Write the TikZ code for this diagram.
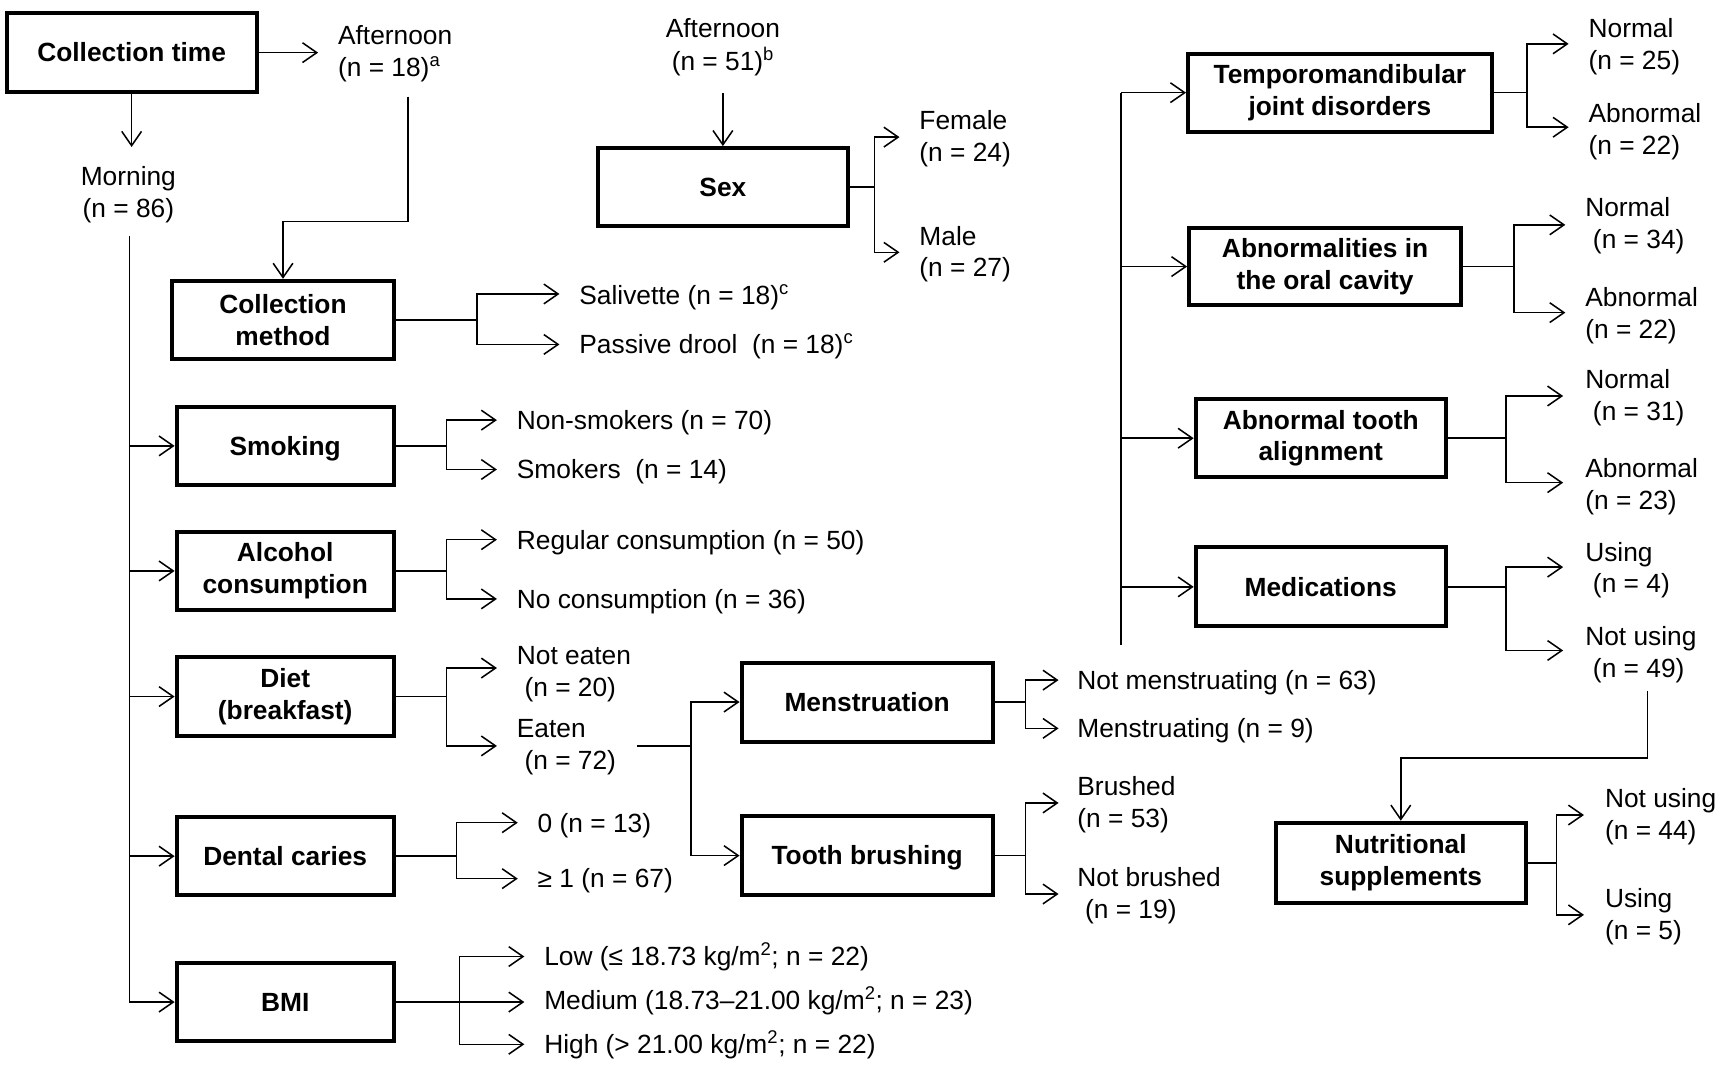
\documentclass[tikz,border=0pt]{standalone}
\usepackage{fontspec}
\setmainfont{Liberation Sans}
\usetikzlibrary{arrows.meta}
\newcommand{\mybranch}[5]{%
  \draw[ln] (#1.east) -- (#1.east -| #2,0) coordinate (#1b);
  \coordinate (#1t1) at (#3,#4);
  \coordinate (#1t2) at (#3,#5);
  \draw[arr] (#1b) |- (#1t1);
  \draw[arr] (#1b) |- (#1t2);
}
\begin{document}
\begin{tikzpicture}[x=1pt,y=-1pt,
  every node/.style={font=\fontsize{24}{29}\selectfont},
  box/.style={draw, line width=3.6pt, font=\fontsize{24}{29}\selectfont\bfseries, align=center, inner sep=0pt},
  one/.style={text height=17pt, text depth=0pt},
  lbl/.style={anchor=west, inner sep=0pt, text height=17pt, text depth=0pt},
  lblc/.style={anchor=center, inner sep=0pt, text height=17pt, text depth=0pt},
  ln/.style={line width=1.4pt},
  arr/.style={line width=1.4pt, -{Straight Barb[length=13pt,width=18pt]}},
]
\useasboundingbox[fill=white] (0,0) rectangle (1568,973);

% ---------- boxes ----------
\node[box, one, minimum width=228pt, minimum height=72pt] (ctime) at (120,48) {Collection time};
\node[box, minimum width=202pt, minimum height=71pt] (cmethod) at (258,291.5) {Collection\\method};
\node[box, one, minimum width=198pt, minimum height=71pt] (smoking) at (260,406.5) {Smoking};
\node[box, minimum width=198pt, minimum height=71pt] (alcohol) at (260,520.5) {Alcohol\\consumption};
\node[box, minimum width=198pt, minimum height=72pt] (diet) at (260,635) {Diet\\(breakfast)};
\node[box, one, minimum width=198pt, minimum height=71pt] (caries) at (260,780.5) {Dental caries};
\node[box, one, minimum width=198pt, minimum height=71pt] (bmi) at (260,913.5) {BMI};
\node[box, one, minimum width=228pt, minimum height=71pt] (sex) at (659,170.5) {Sex};
\node[box, one, minimum width=229pt, minimum height=72pt] (mens) at (790.5,640) {Menstruation};
\node[box, one, minimum width=229pt, minimum height=72pt] (brush) at (790.5,780) {Tooth brushing};
\node[box, minimum width=277pt, minimum height=71pt] (tmj) at (1221.5,84.5) {Temporomandibular\\joint disorders};
\node[box, minimum width=248pt, minimum height=70pt] (oral) at (1208,243) {Abnormalities in\\the oral cavity};
\node[box, minimum width=228pt, minimum height=71pt] (align) at (1204,399.5) {Abnormal tooth\\alignment};
\node[box, one, minimum width=228pt, minimum height=72pt] (meds) at (1204,535) {Medications};
\node[box, minimum width=228pt, minimum height=73pt] (nutr) at (1277,786.5) {Nutritional\\supplements};

% ---------- labels ----------
\node[lbl] (a18a) at (308,32) {Afternoon};
\node[lbl] (a18b) at (308,61) {(n = 18)\textsuperscript{a}};
\node[lblc] (morn1) at (117,161) {Morning};
\node[lblc] (morn2) at (117,190) {(n = 86)};
\node[lblc] (a51a) at (659,26) {Afternoon};
\node[lblc] (a51b) at (659,56) {(n = 51)\textsuperscript{b}};

\node[lbl] (sal) at (528,269) {Salivette (n = 18)\textsuperscript{c}};
\node[lbl] (pas) at (528,314) {Passive drool\ \ (n = 18)\textsuperscript{c}};
\node[lbl] (nsm) at (471,383) {Non-smokers (n = 70)};
\node[lbl] (smk) at (471,428) {Smokers\ \ (n = 14)};
\node[lbl] (reg) at (471,492) {Regular consumption (n = 50)};
\node[lbl] (noc) at (471,546) {No consumption (n = 36)};
\node[lbl] (ne1) at (471,597) {Not eaten};
\node[lbl] (ne2) at (478,626) {(n = 20)};
\node[lbl] (ea1) at (471,664) {Eaten};
\node[lbl] (ea2) at (478,693) {(n = 72)};
\node[lbl] (car0) at (490,750) {0 (n = 13)};
\node[lbl] (car1) at (490,801) {≥ 1 (n = 67)};
\node[lbl] (low) at (496,872) {Low (≤ 18.73 kg/m\textsuperscript{2}; n = 22)};
\node[lbl] (med) at (496,912) {Medium (18.73–21.00 kg/m\textsuperscript{2}; n = 23)};
\node[lbl] (high) at (496,952) {High (> 21.00 kg/m\textsuperscript{2}; n = 22)};
\node[lbl] (fe1) at (838,110) {Female};
\node[lbl] (fe2) at (838,139) {(n = 24)};
\node[lbl] (ma1) at (838,215) {Male};
\node[lbl] (ma2) at (838,244) {(n = 27)};
\node[lbl] (nmen) at (982,620) {Not menstruating (n = 63)};
\node[lbl] (men) at (982,664) {Menstruating (n = 9)};
\node[lbl] (br1) at (982,717) {Brushed};
\node[lbl] (br2) at (982,746) {(n = 53)};
\node[lbl] (nb1) at (982,800) {Not brushed};
\node[lbl] (nb2) at (989,829) {(n = 19)};
\node[lbl] (tn1) at (1448,26) {Normal};
\node[lbl] (tn2) at (1448,55) {(n = 25)};
\node[lbl] (ta1) at (1448,103) {Abnormal};
\node[lbl] (ta2) at (1448,132) {(n = 22)};
\node[lbl] (on1) at (1445,189) {Normal};
\node[lbl] (on2) at (1452,218) {(n = 34)};
\node[lbl] (oa1) at (1445,271) {Abnormal};
\node[lbl] (oa2) at (1445,300) {(n = 22)};
\node[lbl] (an1) at (1445,346) {Normal};
\node[lbl] (an2) at (1452,375) {(n = 31)};
\node[lbl] (aa1) at (1445,427) {Abnormal};
\node[lbl] (aa2) at (1445,456) {(n = 23)};
\node[lbl] (mu1) at (1445,503) {Using};
\node[lbl] (mu2) at (1452,532) {(n = 4)};
\node[lbl] (mn1) at (1445,580) {Not using};
\node[lbl] (mn2) at (1452,609) {(n = 49)};
\node[lbl] (nn1) at (1463,728) {Not using};
\node[lbl] (nn2) at (1463,757) {(n = 44)};
\node[lbl] (nu1) at (1463,819) {Using};
\node[lbl] (nu2) at (1463,848) {(n = 5)};

% ---------- connectors ----------
\coordinate (aft18tip) at (290,48);
\draw[arr] (ctime.east) -- (aft18tip);
\coordinate (morntip) at (120,134);
\draw[arr] (ctime.south) -- (morntip);

\coordinate (a18s) at (372,88);
\draw[arr] (a18s) -- (372,202) -| (cmethod.north);

\coordinate (mt) at (118,215);
\coordinate (mb) at (118,913.5);
\draw[ln] (mt) -- (mb);
\foreach \b in {smoking,alcohol,diet,caries,bmi}{
  \draw[arr] (mt |- \b.west) -- (\b.west);
}

\mybranch{cmethod}{435}{510}{268}{314}
\mybranch{smoking}{407}{453}{383}{428}
\mybranch{alcohol}{407}{453}{492}{546}
\mybranch{diet}{407}{453}{609}{680}
\mybranch{caries}{416}{472}{750}{801}
\mybranch{bmi}{419}{478}{872}{952}
\coordinate (bmit3) at (478,913.5);
\draw[arr] (bmib) -- (bmit3);

\coordinate (a51s) at (659,85);
\draw[arr] (a51s) -- (sex.north);
\mybranch{sex}{797}{820}{125}{230}

\coordinate (eat) at (581,680);
\draw[ln] (eat) -- (630,680) coordinate (eatb);
\draw[arr] (eatb) |- (mens.west);
\draw[arr] (eatb) |- (brush.west);
\mybranch{mens}{935}{965}{620}{664}
\mybranch{brush}{935}{965}{732}{815}

\coordinate (rt) at (1022,84.5);
\coordinate (rb) at (1022,588);
\draw[ln] (rt) -- (rb);
\foreach \b in {tmj,oral,align,meds}{
  \draw[arr] (rt |- \b.west) -- (\b.west);
}
\mybranch{tmj}{1392}{1430}{40}{116}
\mybranch{oral}{1380}{1427}{205}{285}
\mybranch{align}{1373}{1425}{361}{440}
\mybranch{meds}{1373}{1425}{517}{593}

\coordinate (nus) at (1502,630);
\draw[arr] (nus) -- (1502,691) -| (nutr.north);
\mybranch{nutr}{1419}{1444}{743}{834}
\end{tikzpicture}
\end{document}
